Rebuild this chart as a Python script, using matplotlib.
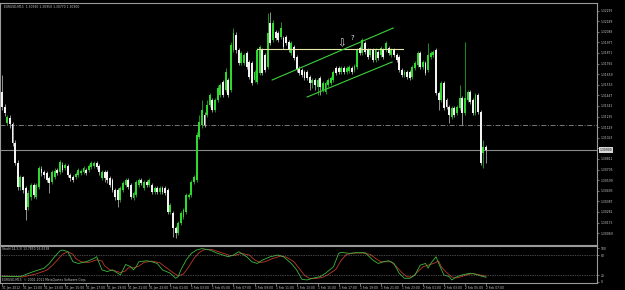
import matplotlib
matplotlib.use("Agg")
import matplotlib.pyplot as plt
import matplotlib.transforms as mtransforms
import numpy as np
import pandas as pd

# EURUSD M15 candles, values in pips above 1.3000
open_pips = [148, 133, 117, 122, 116, 97, 77, 53, 63, 52, 33, 43, 55, 43, 53, 71, 68, 67, 62, 58,
             63, 70, 68, 75, 72, 74, 65, 63, 63, 65, 67, 68, 70, 70, 73, 74, 77, 74, 62, 68,
             68, 62, 60, 50, 50, 40, 50, 55, 60, 55, 42, 45, 55, 60, 52, 58, 55, 55, 48, 52,
             48, 52, 52, 50, 28, 27, 12, 7, 17, 23, 28, 43, 45, 58, 60, 103, 115, 125, 125, 135,
             140, 130, 140, 145, 158, 150, 160, 150, 190, 205, 190, 177, 177, 187, 178, 177, 160, 158, 167, 190,
             185, 173, 217, 200, 208, 207, 203, 202, 203, 198, 187, 193, 183, 172, 170, 168, 168, 163, 157, 160,
             153, 162, 150, 148, 155, 157, 160, 172, 172, 168, 172, 168, 169, 172, 170, 173, 192, 187, 197, 190,
             185, 190, 180, 188, 185, 190, 190, 192, 185, 190, 185, 183, 170, 165, 168, 168, 163, 172, 175, 187,
             173, 177, 170, 183, 185, 190, 147, 140, 157, 140, 133, 123, 132, 127, 132, 142, 127, 140, 148, 140,
             127, 145, 128, 87, 93]
close_pips = [133, 127, 123, 116, 97, 77, 53, 63, 50, 30, 47, 55, 45, 55, 72, 67, 65, 60, 57, 68,
              69, 67, 78, 70, 75, 65, 62, 60, 66, 70, 69, 72, 67, 74, 77, 77, 73, 68, 68, 62,
              60, 55, 50, 43, 40, 52, 57, 60, 53, 43, 47, 58, 60, 57, 58, 55, 60, 48, 52, 48,
              52, 48, 47, 28, 35, 12, 7, 17, 27, 30, 45, 45, 58, 63, 105, 118, 130, 115, 135, 145,
              130, 140, 152, 155, 145, 168, 145, 195, 207, 190, 177, 187, 185, 173, 163, 157, 168, 190, 193, 167,
              170, 207, 197, 217, 202, 200, 212, 193, 197, 190, 197, 182, 170, 167, 165, 162, 162, 157, 160, 155,
              160, 153, 157, 157, 160, 162, 168, 167, 168, 172, 168, 172, 173, 168, 174, 190, 187, 200, 188, 183,
              190, 180, 190, 182, 192, 183, 197, 187, 190, 185, 180, 170, 165, 168, 163, 162, 173, 177, 187, 173,
              178, 167, 185, 187, 188, 147, 140, 157, 132, 133, 125, 132, 125, 133, 142, 127, 142, 148, 138, 127,
              145, 128, 77, 93, 90]
high_pips = [165, 136, 125, 125, 118, 100, 80, 65, 64, 54, 50, 57, 57, 57, 74, 74, 70, 69, 64, 70,
             72, 72, 80, 78, 77, 76, 67, 65, 68, 72, 71, 74, 72, 76, 79, 79, 79, 76, 70, 70,
             70, 64, 62, 52, 52, 54, 59, 62, 62, 57, 49, 60, 62, 62, 60, 60, 62, 57, 54, 54,
             54, 54, 54, 52, 37, 29, 14, 19, 29, 32, 47, 47, 60, 65, 108, 125, 140, 128, 140, 147,
             142, 142, 155, 157, 160, 172, 162, 198, 212, 208, 192, 189, 187, 189, 180, 179, 170, 192, 195, 192,
             187, 227, 228, 220, 210, 209, 218, 204, 205, 200, 199, 195, 185, 174, 172, 170, 170, 165, 162, 162,
             162, 164, 159, 159, 162, 164, 170, 174, 174, 174, 174, 174, 175, 174, 176, 192, 194, 202, 199, 192,
             192, 192, 192, 190, 194, 192, 199, 194, 192, 192, 187, 185, 172, 170, 170, 170, 175, 179, 189, 189,
             180, 179, 197, 189, 190, 192, 149, 159, 159, 142, 135, 134, 134, 135, 155, 144, 198, 150, 150, 142,
             147, 147, 130, 100, 95]
low_pips = [130, 124, 115, 112, 94, 75, 50, 50, 47, 20, 30, 40, 42, 41, 51, 64, 62, 58, 47, 56,
            61, 65, 66, 68, 70, 63, 59, 58, 61, 63, 65, 66, 65, 68, 71, 72, 71, 65, 60, 58,
            57, 53, 48, 40, 33, 38, 48, 53, 51, 41, 40, 43, 53, 55, 50, 53, 53, 46, 46, 46,
            46, 46, 45, 26, 26, 3, 2, 5, 15, 21, 26, 41, 43, 56, 58, 101, 112, 113, 123, 133,
            128, 128, 138, 143, 143, 148, 143, 148, 188, 187, 175, 175, 175, 171, 161, 155, 158, 156, 165, 165,
            168, 171, 195, 198, 200, 198, 201, 191, 195, 188, 185, 180, 168, 165, 163, 160, 160, 150, 152, 150,
            145, 145, 148, 146, 153, 155, 158, 165, 166, 166, 166, 166, 167, 166, 168, 171, 185, 185, 186, 181,
            183, 178, 178, 180, 183, 181, 188, 185, 183, 183, 178, 168, 163, 163, 161, 160, 161, 170, 173, 171,
            171, 165, 168, 181, 183, 145, 130, 138, 130, 131, 117, 121, 123, 125, 130, 115, 125, 138, 136, 125,
            125, 126, 75, 72, 77]

# stochastic(14,3,3): (bar index, value)
stoch_main_x = [0, 7, 12, 16, 18, 20, 22, 23, 25, 26, 27, 29, 32, 35, 36, 37, 38, 40, 42, 44, 45, 46, 47, 49, 50,
                51, 52, 55, 57, 59, 61, 64, 66, 67, 68, 70, 72, 74, 76, 79, 82, 86, 88, 90, 93, 95, 97, 99, 102,
                105, 107, 110, 112, 114, 116, 118, 121, 123, 126, 128, 129, 132, 135, 138, 139, 141, 143, 145,
                147, 149, 151, 153, 155, 157, 159, 161, 162, 163, 165, 166, 168, 170, 171, 173, 175, 178, 180,
                182, 184]
stoch_main_y = [16, 16, 31, 41, 55, 75, 92, 95, 90, 75, 60, 55, 60, 70, 75, 55, 36, 31, 36, 26, 21, 36, 52, 45, 36,
                45, 60, 63, 60, 55, 36, 26, 11, 16, 36, 65, 85, 95, 99, 95, 85, 75, 80, 90, 75, 60, 55, 65, 75,
                80, 75, 55, 36, 8, 6, 11, 16, 26, 45, 85, 88, 85, 87, 87, 80, 65, 55, 60,
                63, 55, 26, 11, 11, 21, 50, 55, 41, 55, 75, 55, 21, 16, 6, 16, 21, 26, 23,
                18, 14]
stoch_sig_x = [0, 8, 13, 17, 19, 21, 23, 25, 27, 28, 30, 33, 36, 38, 39, 41, 43, 45, 47, 48, 50, 52, 54, 57, 60,
               62, 65, 67, 69, 71, 73, 75, 77, 80, 83, 87, 89, 91, 94, 96, 98, 100, 103, 106, 108, 111, 113,
               115, 117, 119, 122, 124, 127, 129, 131, 134, 137, 140, 142, 144, 146, 148, 150, 152, 154, 156,
               158, 160, 162, 164, 166, 167, 169, 171, 173, 175, 177, 179, 181, 184]
stoch_sig_y = [18, 15, 24, 35, 48, 65, 82, 90, 82, 70, 60, 58, 66, 62, 48, 36, 33, 28, 33, 42, 42, 47, 58, 62, 57,
               45, 28, 18, 24, 45, 70, 88, 96, 96, 88, 78, 80, 85, 80, 66, 58, 60, 70, 77, 74, 60, 40,
               20, 10, 10, 14, 22, 38, 65, 82, 86, 86, 82, 70, 60, 60, 60, 45, 28, 15, 15,
               30, 45, 50, 55, 62, 45, 28, 15, 12, 17, 22, 25, 22, 17]

# drawn objects: (bar index, pips)
hline_x = [97, 152.5]
hline_y = [191, 191]
channel_up_x = [102.7, 148.7]
channel_up_y = [160, 212]
channel_lo_x = [116, 148.3]
channel_lo_y = [143, 178]
order_line = 115

price_ticks = [1.32295, 1.32189, 1.32083, 1.31977, 1.31871, 1.31765, 1.31659, 1.31553, 1.31447, 1.31341,
               1.31235, 1.31129, 1.31023, 1.30917, 1.30811, 1.30705, 1.30599, 1.30493, 1.30387, 1.30281,
               1.30175, 1.30069]

o = 1.3 + np.array(open_pips) / 10000
c = 1.3 + np.array(close_pips) / 10000
h = 1.3 + np.array(high_pips) / 10000
l = 1.3 + np.array(low_pips) / 10000
n = len(c)
idx = np.arange(n)
times = pd.Timestamp("2012-01-31 09:00") + pd.to_timedelta(idx * 15, unit="min")

GREEN = "#2ed82e"
WHITE = "#f2f2f2"
GRID = "#9a9a9a"
TXT = "#c8c8c8"
fs = 2.2

fig = plt.figure(figsize=(6.25, 2.9), dpi=100, facecolor="black")
W, H = 625.0, 290.0
ax = fig.add_axes([0, (H - 245) / H, 597 / W, (245 - 3) / H], facecolor="black")
ax2 = fig.add_axes([0, (H - 282.5) / H, 597 / W, (282.5 - 246) / H], facecolor="black")

xmin, xmax = -0.76, 226.2
bull = c >= o
body_col = np.where(bull, GREEN, WHITE)
wick_col = np.where(bull, "#28b428", "#b8b8b8")
ax.vlines(idx, l, h, colors=wick_col, lw=0.55, zorder=2)
hgt = np.where(np.abs(c - o) < 0.00002, 0.00002, c - o)
ax.bar(idx, hgt, bottom=o, width=0.72, color=body_col, lw=0, zorder=3)

ax.set_xlim(xmin, xmax)
ax.set_ylim(1.3 - 5 / 10000, 1.3 + 237 / 10000)

# horizontal drawn line and channel
ax.plot(hline_x, 1.3 + np.array(hline_y) / 10000, color="#e6e6a8", lw=0.8, zorder=4)
ax.plot(channel_up_x, 1.3 + np.array(channel_up_y) / 10000, color="#3ad23a", lw=0.8, zorder=4)
ax.plot(channel_lo_x, 1.3 + np.array(channel_lo_y) / 10000, color="#3ad23a", lw=0.8, zorder=4)
ax.text(129.3, 1.3 + 197 / 10000, "\u21e9", color="#e0e0e0", fontsize=7.5, ha="center", va="center", zorder=5)
ax.text(133.3, 1.3 + 202.5 / 10000, "?", color="#e0e0e0", fontsize=5, ha="center", va="center", zorder=5)

# order line and bid line
ax.axhline(1.3 + order_line / 10000, color="#8c8c8c", lw=0.6, ls=(0, (6, 2, 1, 2)), zorder=1)
ax.text(1.5, 1.3 + (order_line + 2) / 10000, "sl", color="#a0a0a0", fontsize=fs, va="bottom")
ax.axhline(c[-1], color="#8a8a8a", lw=0.8, zorder=1)

ax.yaxis.tick_right()
ax.set_yticks(price_ticks)
ax.set_yticklabels([f"{v:.5f}" for v in price_ticks])
ax.tick_params(axis="y", colors=GRID, labelcolor=TXT, labelsize=fs, length=1.5, width=0.5, pad=1)
ax.set_xticks([])
for s in ["left", "right", "top", "bottom"]:
    ax.spines[s].set_color(GRID)
    ax.spines[s].set_linewidth(0.8)

trans = mtransforms.blended_transform_factory(ax.transAxes, ax.transData)
ax.text(1.004, c[-1], f"{c[-1]:.5f}", transform=trans, fontsize=fs, color="black", va="center", ha="left",
        bbox=dict(boxstyle="square,pad=0.2", fc="#d8d8d8", ec="none"), clip_on=False)

fig.text(4 / W, 1 - 7 / H, f"EURUSD,M15  {o[-1]:.5f} {h[-1]:.5f} {l[-1]:.5f} {c[-1]:.5f}",
         color=TXT, fontsize=fs, va="center")

# stochastic pane
ax2.plot(stoch_sig_x, stoch_sig_y, color="#c0392b", lw=0.6)
ax2.plot(stoch_main_x, stoch_main_y, color="#3cb83c", lw=0.6)
ax2.axhline(80, color="#8c8c8c", lw=0.5, ls=(0, (1, 1.5)))
ax2.axhline(20, color="#8c8c8c", lw=0.5, ls=(0, (1, 1.5)))
ax2.set_xlim(xmin, xmax)
ax2.set_ylim(-1.5, 106.8)
ax2.yaxis.tick_right()
ax2.set_yticks([100, 80, 20, 0])
ax2.tick_params(axis="y", colors=GRID, labelcolor=TXT, labelsize=fs, length=1.5, width=0.5, pad=1)
ax2.text(0.004, 0.92, f"Stoch(14,3,3) {stoch_main_y[-1] - 0.215:.4f} {stoch_sig_y[-1] - 0.3462:.4f}",
         transform=ax2.transAxes, color=TXT, fontsize=fs, va="center")
ax2.text(0.004, 0.06, "EURUSD,M15  \u00a9 2001-2011 MetaQuotes Software Corp.",
         transform=ax2.transAxes, color=TXT, fontsize=fs, va="center")

lab_idx = idx[::8]
labels = []
for i in lab_idx:
    t = times[i]
    labels.append(f"{t.day} {t:%b} {t:%Y}" if i == 0 else f"{t.day} {t:%b %H:%M}")
ax2.set_xticks(lab_idx)
ax2.set_xticklabels(labels, ha="left")
ax2.tick_params(axis="x", colors=GRID, labelcolor=TXT, labelsize=fs, length=2, width=0.5, pad=0.8)
for s in ["left", "right", "top", "bottom"]:
    ax2.spines[s].set_color(GRID)
    ax2.spines[s].set_linewidth(0.8)

fig.savefig("out.png", dpi=100, facecolor="black")
